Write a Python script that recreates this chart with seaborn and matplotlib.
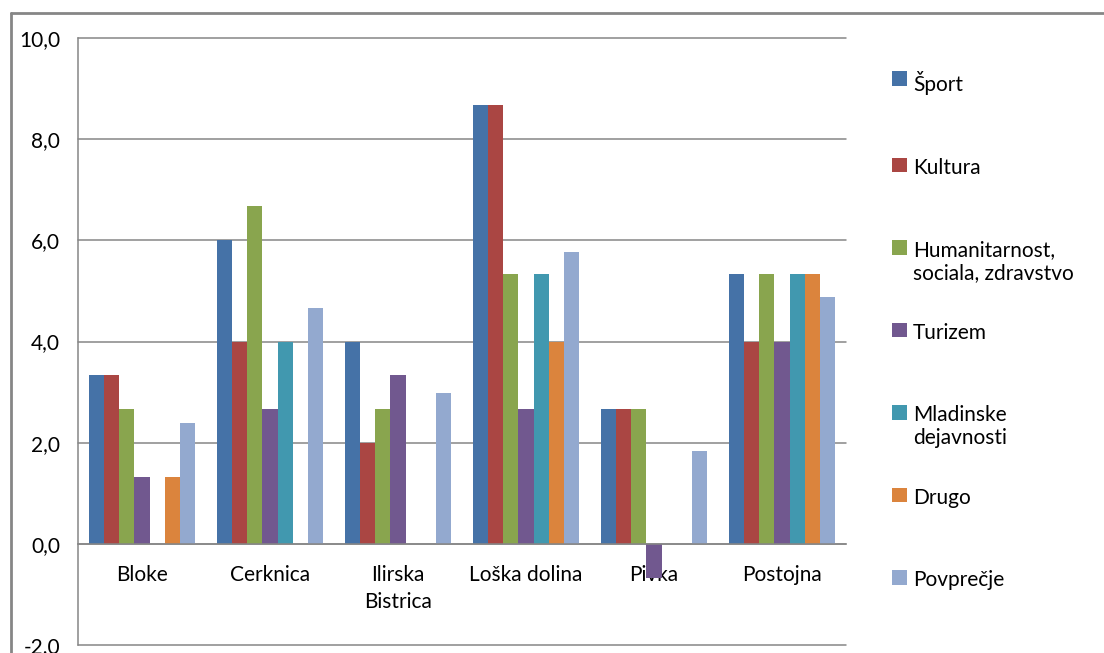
import numpy as np
import pandas as pd
import matplotlib
matplotlib.use("Agg")
import matplotlib.pyplot as plt
import seaborn as sns
from matplotlib.patches import Patch
from matplotlib.lines import Line2D

# ---------------- data ----------------
categories = ["Bloke", "Cerknica", "Ilirska\nBistrica", "Loška dolina", "Pivka", "Postojna"]
series_names = ["Šport", "Kultura", "Humanitarnost,\nsociala, zdravstvo", "Turizem",
                "Mladinske\ndejavnosti", "Drugo", "Povprečje"]
sport = [3.33, 6.0, 4.0, 8.67, 2.67, 5.33]
kultura = [3.33, 4.0, 2.0, 8.67, 2.67, 4.0]
humanitarnost = [2.67, 6.67, 2.67, 5.33, 2.67, 5.33]
turizem = [1.33, 2.67, 3.33, 2.67, -0.67, 4.0]
mladinske = [0.0, 4.0, 0.0, 5.33, 0.0, 5.33]
drugo = [1.33, 0.0, 0.0, 4.0, 0.0, 5.33]
povprecje = [2.38, 4.67, 2.98, 5.76, 1.83, 4.88]
ytick_values = [-2, 0, 2, 4, 6, 8, 10]
ytick_labels = ["-2,0", "0,0", "2,0", "4,0", "6,0", "8,0", "10,0"]
colors = ["#4572A7", "#AA4643", "#89A54E", "#71588F", "#4198AF", "#DB843D", "#93A9CF"]

series_values = [sport, kultura, humanitarnost, turizem, mladinske, drugo, povprecje]
rows = []
for name, vals in zip(series_names, series_values):
    for c, v in zip(categories, vals):
        rows.append({"Občina": c, "Področje": name, "Vrednost": v})
df = pd.DataFrame(rows)

# ---------------- style ----------------
sns.set_theme(style="white")
plt.rcParams["font.family"] = ["Lato", "DejaVu Sans"]
FS = 15
GRAY = "#868686"

fig = plt.figure(figsize=(11.04, 6.53), dpi=100)
ax = fig.add_axes([78 / 1104, 8 / 653, 768 / 1104, 607 / 653])

sns.barplot(data=df, x="Občina", y="Vrednost", hue="Področje",
            order=categories, hue_order=series_names, palette=colors,
            saturation=1, width=0.83, gap=0, errorbar=None, ax=ax, legend=False,
            linewidth=0, edgecolor="none")

ax.set_ylim(-2, 10)
ax.set_xlim(-0.5, len(categories) - 0.5)
ax.set_yticks(ytick_values)
ax.set_yticklabels(ytick_labels, fontsize=FS, color="#000000")
ax.yaxis.grid(True, color=GRAY, linewidth=1.1)
ax.set_axisbelow(True)
for gl in ax.get_ygridlines():
    gl.set_clip_on(False)
ax.tick_params(axis="y", length=8, width=1.1, color=GRAY, direction="out", pad=5)

ax.spines["top"].set_visible(False)
ax.spines["right"].set_visible(False)
ax.spines["left"].set_color(GRAY)
ax.spines["left"].set_linewidth(1.1)
ax.spines["bottom"].set_position(("data", 0))
ax.spines["bottom"].set_color(GRAY)
ax.spines["bottom"].set_linewidth(1.1)

ax.set_xticks(range(len(categories)))
ax.set_xticklabels(categories, fontsize=FS, color="#000000", linespacing=1.4)
ax.set_xticks(np.arange(-0.5, len(categories), 1.0), minor=True)
ax.tick_params(axis="x", which="major", length=0, pad=15.5)
ax.tick_params(axis="x", which="minor", length=6, width=1.1, color=GRAY, direction="out")
ax.set_xlabel("")
ax.set_ylabel("")

# ---------------- legend ----------------
handles = [Patch(facecolor=c, edgecolor="none") for c in colors]
labels = [n if "\n" in n else n + "\n " for n in series_names]
leg = fig.legend(handles, labels, loc="upper left", bbox_to_anchor=(892 / 1104, 1 - 71 / 653),
                 frameon=False, fontsize=FS, handlelength=0.7, handleheight=0.7,
                 handletextpad=0.3, labelspacing=1.89, borderpad=0, borderaxespad=0)
for t in leg.get_texts():
    t.set_linespacing(1.2)
    t.set_color("#000000")
try:
    for col in leg._legend_handle_box.get_children():
        for item in col.get_children():
            item.align = "top"
except Exception:
    pass

# outer chart border (cropped)
fig.add_artist(Line2D([11 / 1104, 11 / 1104], [0, 1 - 13 / 653], transform=fig.transFigure,
                      color=GRAY, linewidth=2))
fig.add_artist(Line2D([11 / 1104, 1], [1 - 13 / 653, 1 - 13 / 653], transform=fig.transFigure,
                      color=GRAY, linewidth=2))

fig.savefig("out.png", dpi=100)
